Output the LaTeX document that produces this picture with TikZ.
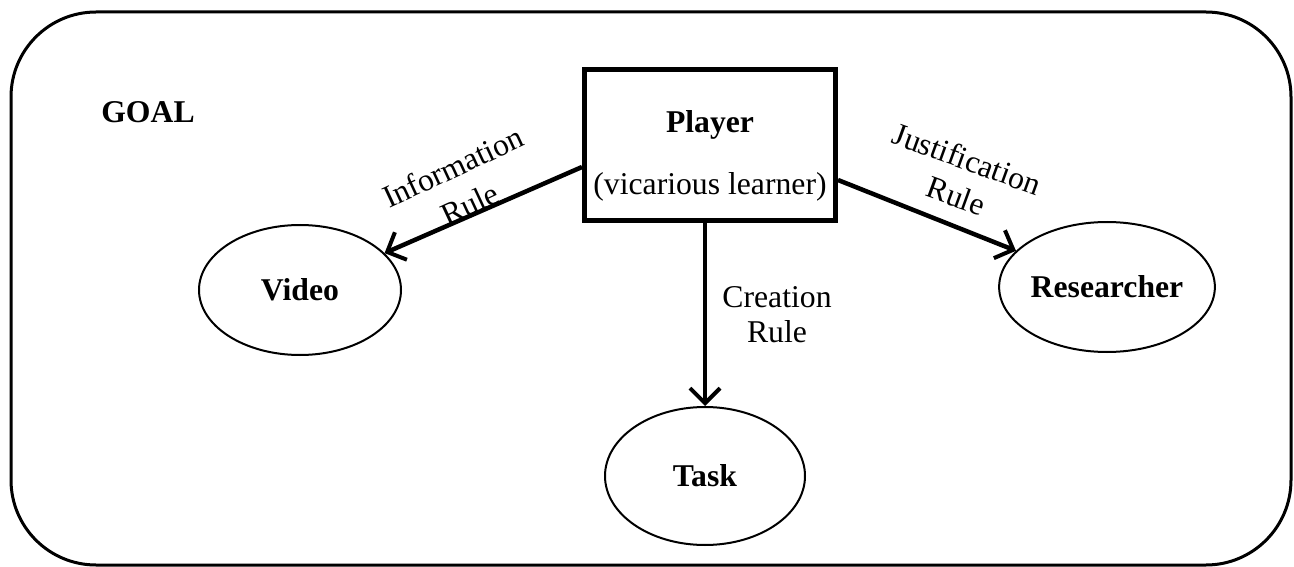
\documentclass[tikz,border=0pt]{standalone}
\usepackage{fontspec}
\setmainfont{Liberation Serif}
\usetikzlibrary{shapes.geometric,arrows.meta}
\begin{document}
\begin{tikzpicture}[x=1pt,y=-1pt,
  txt/.style={font=\fontsize{31.7}{37}\selectfont, align=center, inner sep=0pt},
  bold/.style={txt, font=\fontsize{31.7}{36}\selectfont\bfseries},
  oval/.style={bold, draw, line width=2pt, ellipse, minimum width=202pt, minimum height=130pt},
  actor/.style={draw, line width=5pt, minimum width=251pt, minimum height=151pt, inner sep=0pt},
  conn/.style={line width=4.5pt, -{Straight Barb[length=15pt,width=30pt,line width=4pt]}},
  frame/.style={line width=3pt, rounded corners=85pt}
]
\useasboundingbox (0,0) rectangle (1294,567);

% outer goal frame
\draw[frame] (11,12) rectangle (1291,565);
\node[bold] (goal) at (148,112) {GOAL};

% central actor
\node[actor] (player) at (710,145) {};
\node[bold] (playername) at (710,125) {Player};
\node[txt] (playerrole) at (710,187) {(vicarious learner)};

% surrounding objects
\node[oval] (video) at (300,290) {Video};
\node[oval, minimum width=204pt] (researcher) at (1107,287) {Researcher};
\node[oval, minimum width=200pt, minimum height=138pt] (task) at (705,476) {Task};

% rules
\coordinate (infostart) at (player.west |- 0,167);
\coordinate (juststart) at (player.east |- 0,180);
\draw[conn] (infostart) -- (video);
\draw[conn] (juststart) -- (researcher);
\draw[conn] (player.south -| task) -- (task);

% rule labels, one line per node
\node[txt, rotate=25] (infolabel) at (453,167) {Information};
\node[txt, rotate=25] (inforule) at (470,204) {Rule};
\node[txt, rotate=-20] (justlabel) at (967,159) {Justification};
\node[txt, rotate=-20] (justrule) at (956,196) {Rule};
\node[txt] (creationlabel) at (777,297) {Creation};
\node[txt] (creationrule) at (777,332) {Rule};
\end{tikzpicture}
\end{document}
